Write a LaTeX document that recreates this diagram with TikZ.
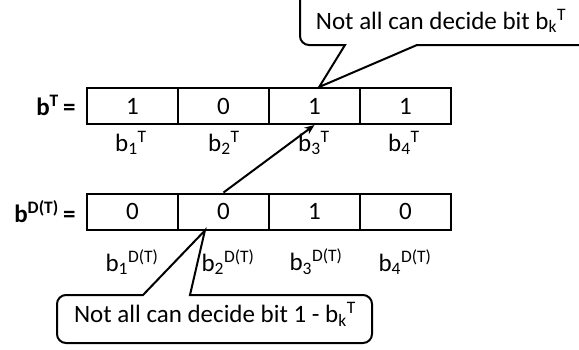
\documentclass[tikz,border=0pt]{standalone}
\usepackage{fontspec}
\setmainfont{Carlito}
\usetikzlibrary{positioning, arrows.meta, calc}

\begin{document}
\begin{tikzpicture}[x=1pt, y=-1pt, font=\fontsize{25}{30}\selectfont,
  cell/.style={draw, line width=2pt, minimum width=91pt, minimum height=36pt, inner sep=0pt},
  bitlabel/.style={inner sep=0pt},
  balloon/.style={draw, line width=2pt, line join=miter}]
\clip (0,0) rectangle (579,349);

% Bits of T
\node[anchor=east, font=\fontsize{25}{30}\selectfont\bfseries] (bT) at (79,105) {b\textsuperscript{T}\,=};
\node[cell] (t1) at (132.5,106) {1};
\node[cell] (t2) at (223.5,106) {0};
\node[cell] (t3) at (314.5,106) {1};
\node[cell] (t4) at (405.5,106) {1};
\node[bitlabel] (lt1) at (131,143) {b\textsubscript{1}\textsuperscript{T}};
\node[bitlabel] (lt2) at (224,143) {b\textsubscript{2}\textsuperscript{T}};
\node[bitlabel] (lt3) at (314,143) {b\textsubscript{3}\textsuperscript{T}};
\node[bitlabel] (lt4) at (404,143) {b\textsubscript{4}\textsuperscript{T}};

% Bits of D(T)
\node[anchor=east, font=\fontsize{25}{30}\selectfont\bfseries] (bD) at (79,212) {b\textsuperscript{D(T)}\,=};
\node[cell] (d1) at (132.5,211.5) {0};
\node[cell] (d2) at (223.5,211.5) {0};
\node[cell] (d3) at (314.5,211.5) {1};
\node[cell] (d4) at (405.5,211.5) {0};
\node[bitlabel] (ld1) at (132,262) {b\textsubscript{1}\textsuperscript{D(T)}};
\node[bitlabel] (ld2) at (228,262) {b\textsubscript{2}\textsuperscript{D(T)}};
\node[bitlabel] (ld3) at (316,262) {b\textsubscript{3}\textsuperscript{D(T)}};
\node[bitlabel] (ld4) at (405,262) {b\textsubscript{4}\textsuperscript{D(T)}};

\draw[-{Stealth[length=10pt, width=8pt]}, line width=2pt] (d2.north) -- (t3.south);

% Callouts
\coordinate (tipT) at ($(t3.north west)!0.55!(t3.north east)$);
\coordinate (tipD) at ($(d2.south west)!0.3!(d2.south east)$);
\node (noteT) at (441,21) {Not all can decide bit b\textsubscript{k}\textsuperscript{T}};
\node (noteD) at (215,314) {Not all can decide bit 1 - b\textsubscript{k}\textsuperscript{T}};
\draw[balloon] (tipT) -- (345,45) {[rounded corners=9pt] -- (300,45) -- (300,-8) -- (590,-8) -- (590,45)} -- (417,45) -- cycle;
\draw[balloon] (tipD) -- (143,295) {[rounded corners=9pt] -- (57,295) -- (57,343) -- (372,343) -- (372,295)} -- (190,295) -- cycle;
\end{tikzpicture}
\end{document}
